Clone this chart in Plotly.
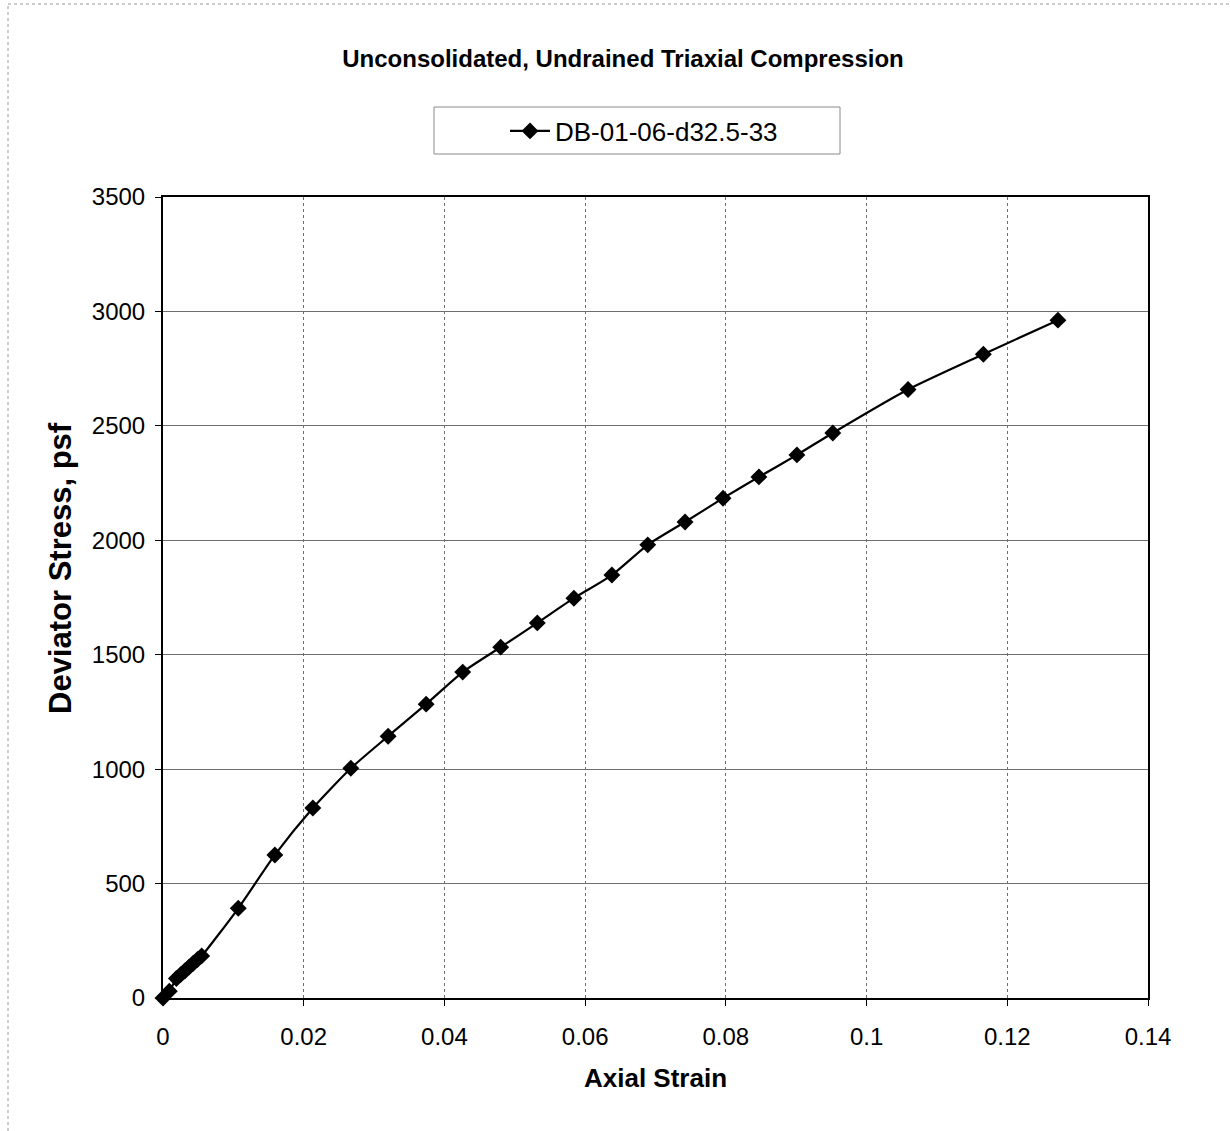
import plotly.graph_objects as go

# Stress-strain readings for specimen DB-01-06-d32.5-33
series_name = "DB-01-06-d32.5-33"
axial_strain = [0.0, 0.0009, 0.0019, 0.0025, 0.0031, 0.0037, 0.0043, 0.0049, 0.0055,
                0.0107, 0.0159, 0.0213, 0.0267, 0.0320, 0.0374, 0.0426, 0.0480,
                0.0532, 0.0584, 0.0638, 0.0689, 0.0742, 0.0796, 0.0847, 0.0901,
                0.0952, 0.1059, 0.1166, 0.1272]
deviator_stress = [0, 30, 85, 102, 118, 135, 152, 168, 184,
                   392, 625, 830, 1004, 1144, 1284, 1424, 1533,
                   1639, 1747, 1848, 1980, 2080, 2184, 2277, 2373,
                   2469, 2659, 2813, 2962]

x_ticks = [0, 0.02, 0.04, 0.06, 0.08, 0.1, 0.12, 0.14]
y_ticks = [0, 500, 1000, 1500, 2000, 2500, 3000, 3500]

W, H = 1230, 1131
L, R, T, B = 163, 82, 197, 133
pw, ph = W - L - R, H - T - B


def px_to_paper(px, py):
    return (px - L) / pw, (H - B - py) / ph


font_family = "Liberation Sans, Arial, sans-serif"

fig = go.Figure()
fig.add_trace(go.Scatter(
    x=axial_strain, y=deviator_stress, mode="lines+markers", name=series_name,
    line=dict(color="black", width=2.2, shape="spline", smoothing=0.6),
    marker=dict(symbol="diamond", size=13, color="black"),
    cliponaxis=False,
))

# legend frame and outer chart border
lx0, ly0 = px_to_paper(434, 154)
lx1, ly1 = px_to_paper(840, 107)
bx0, by0 = px_to_paper(8, 1131)
bx1, by1 = px_to_paper(1230, 4)
shapes = [
    dict(type="rect", xref="paper", yref="paper", x0=lx0, y0=ly0, x1=lx1, y1=ly1,
         line=dict(color="#8a8a8a", width=1), fillcolor="white", layer="below"),
    dict(type="line", xref="paper", yref="paper", x0=bx0, y0=by0, x1=bx0, y1=by1,
         line=dict(color="#9a9a9a", width=1, dash="dot")),
    dict(type="line", xref="paper", yref="paper", x0=bx0, y0=by1, x1=bx1, y1=by1,
         line=dict(color="#9a9a9a", width=1, dash="dot")),
]

leg_x, leg_y = px_to_paper(505, 131)
ytitle_x, ytitle_y = px_to_paper(60, 568)

fig.update_layout(
    width=W, height=H, autosize=False,
    margin=dict(l=L, r=R, t=T, b=B),
    paper_bgcolor="white", plot_bgcolor="white",
    font=dict(family=font_family, color="black", size=24),
    title=dict(text="<b>Unconsolidated, Undrained Triaxial Compression</b>",
               xref="container", yref="container", x=623 / W, y=1 - 59 / H,
               xanchor="center", yanchor="middle",
               font=dict(size=24, family=font_family, color="black")),
    showlegend=True,
    legend=dict(x=leg_x, y=leg_y, xanchor="left", yanchor="middle",
                bgcolor="rgba(0,0,0,0)", borderwidth=0,
                font=dict(size=26, family=font_family), itemwidth=40),
    shapes=shapes,
    annotations=[dict(text="<b>Deviator Stress, psf</b>", textangle=-90,
                      xref="paper", yref="paper", x=ytitle_x, y=ytitle_y,
                      xanchor="center", yanchor="middle", showarrow=False,
                      font=dict(size=31, family=font_family, color="black"))],
)

fig.update_xaxes(
    range=[0, 0.14], tickvals=x_ticks, ticktext=[f"{v:g}" for v in x_ticks],
    showgrid=True, gridcolor="#6e6e6e", gridwidth=1, griddash="dot",
    showline=True, linecolor="black", linewidth=2, mirror=True,
    ticks="outside", ticklen=6, tickcolor="black", tickwidth=1,
    ticklabelstandoff=10,
    tickfont=dict(size=24), zeroline=False,
    title=dict(text="<b>Axial Strain</b>", font=dict(size=26), standoff=20),
)
fig.update_yaxes(
    range=[0, 3500], tickvals=y_ticks,
    showgrid=True, gridcolor="#6e6e6e", gridwidth=1,
    showline=True, linecolor="black", linewidth=2, mirror=True,
    ticks="outside", ticklen=6, tickcolor="black", tickwidth=1,
    ticklabelstandoff=5,
    tickfont=dict(size=24), zeroline=False,
)

fig.write_html("out.html")
